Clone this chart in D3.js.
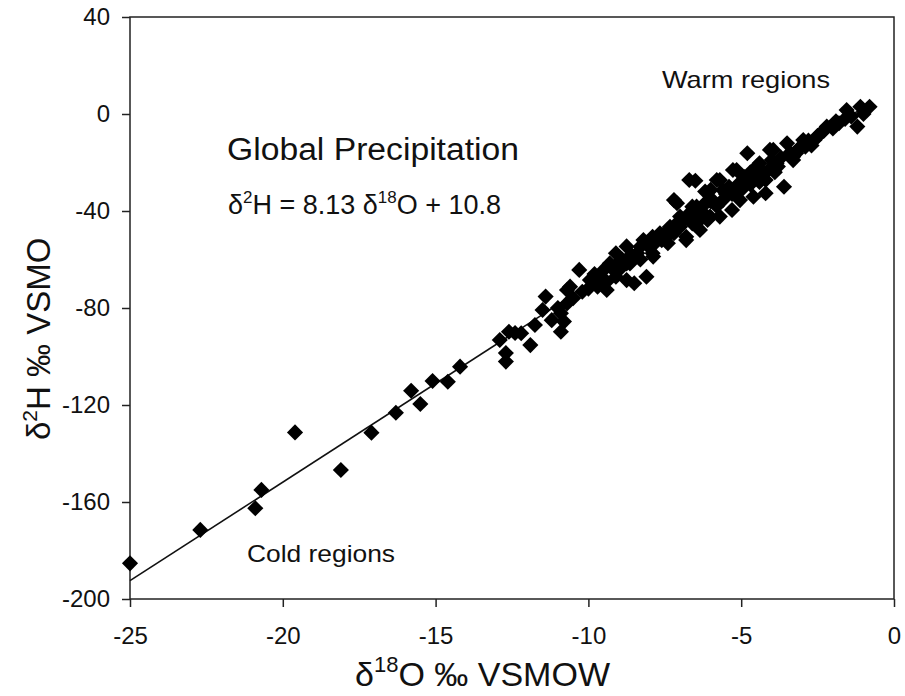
<!DOCTYPE html>
<html>
<head>
<meta charset="utf-8">
<script src="https://cdn.jsdelivr.net/npm/d3@7"></script>
<style>
  body { margin: 0; background: #fff; }
  text { font-family: "Liberation Sans", Arial, sans-serif; fill: #111; }
</style>
</head>
<body>
<script>
// delta 18O (x) and delta 2H (y) values
var o18 = [-25.0, -22.7, -20.9, -20.7, -19.6, -18.1, -17.1, -16.3, -15.8, -15.5,
  -15.1, -14.6, -14.2, -12.9, -12.7, -12.7, -12.6, -12.4, -12.2, -11.9,
  -11.75, -11.4, -11.5, -11.2, -10.9, -10.8, -10.9, -10.6, -10.7, -10.3,
  -10.2, -9.95, -9.7, -9.5, -9.4, -9.1, -9.3, -9.0, -8.75, -8.5,
  -8.1, -8.4, -8.2, -7.9, -7.66, -7.2, -7.0, -6.6, -7.4, -6.8,
  -8.75, -9.1, -8.3, -7.9, -7.4, -7.2, -6.7, -7.0, -6.6, -6.1,
  -6.0, -5.7, -5.6, -5.15, -4.8, -5.0, -4.6, -4.4, -4.2, -3.8,
  -3.95, -3.5, -3.6, -4.2, -4.6, -3.2, -2.9, -2.6, -2.2, -2.4,
  -1.8, -1.55, -1.2, -1.1, -0.8, -5.7, -6.35, -6.8, -5.3, -7.33,
  -7.1, -6.35, -9.4, -10.7, -8.75, -8.64, -7.66, -7.88, -6.5, -6.18,
  -5.8, -5.27, -4.49, -4.06, -2.97, -6.02, -6.46, -5.04, -4.93, -3.84,
  -3.3, -5.6, -11.0, -10.5, -10.0, -9.8, -9.6, -9.2, -8.9, -8.6,
  -8.3, -8.0, -7.8, -7.6, -7.5, -7.1, -6.9, -6.7, -6.5, -6.3,
  -6.2, -5.9, -5.8, -5.5, -5.4, -5.2, -5.1, -4.9, -4.7, -4.5,
  -4.3, -4.1, -4.0, -3.7, -3.4, -3.1, -2.8, -2.5, -2.3, -2.0,
  -1.9, -1.6, -1.4, -1.0, -9.0, -8.5, -7.3, -6.0, -5.3, -4.7,
  -4.4, -3.9, -3.3, -2.7];
var h2 = [-185.3, -171.5, -162.6, -155.0, -131.3, -146.8, -131.4, -123.2, -114.1, -119.6,
  -110.1, -110.4, -104.2, -93.2, -102.1, -98.6, -89.8, -90.3, -90.4, -95.3,
  -87.0, -75.3, -80.8, -85.0, -89.8, -85.6, -82.2, -71.2, -78.1, -64.3,
  -73.3, -68.5, -71.2, -64.3, -69.2, -57.4, -61.6, -64.3, -61.6, -69.8,
  -67.1, -57.4, -52.0, -57.4, -49.2, -49.2, -46.5, -45.1, -53.3, -50.6,
  -54.6, -67.1, -54.7, -50.6, -47.8, -35.5, -27.2, -42.3, -38.2, -43.7,
  -31.3, -27.2, -35.5, -23.1, -16.2, -31.3, -27.2, -20.3, -27.2, -21.7,
  -14.8, -12.1, -30.0, -32.7, -34.1, -16.2, -13.5, -10.7, -5.2, -8.0,
  -3.8, 1.6, -5.2, 3.0, 3.0, -42.3, -47.8, -52.0, -39.6, -46.5,
  -36.8, -43.7, -72.6, -72.6, -68.5, -61.6, -50.6, -58.8, -27.5, -32.0,
  -27.2, -23.1, -21.7, -14.8, -10.7, -42.3, -38.2, -35.5, -28.6, -20.3,
  -17.6, -31.3, -80, -76, -72, -66, -67, -64, -60, -58,
  -60, -55, -53, -52, -50, -45, -44, -41, -42, -40,
  -37, -36, -38, -33, -30, -32, -29, -26, -24, -25,
  -24, -23, -19, -18, -16, -14, -11, -9, -7, -6,
  -3, -2, -1, 0, -61, -59, -49, -36, -33, -29,
  -28, -24, -19, -13];

// global meteoric water line from the figure
var slope = 8.13;
var intercept = 10.8;
var lineRange = [-25, -1];

var xTicks = [-25, -20, -15, -10, -5, 0];
var yTicks = [40, 0, -40, -80, -120, -160, -200];

var W = 905, H = 696;
var m = {left: 130, right: 11, top: 17, bottom: 97};

var svg = d3.select('body').append('svg')
  .attr('width', W)
  .attr('height', H);

var x = d3.scaleLinear().domain([-25, 0]).range([m.left, W - m.right]);
var y = d3.scaleLinear().domain([-200, 40]).range([H - m.bottom, m.top]);

// frame
svg.append('rect')
  .attr('x', x(-25)).attr('y', y(40))
  .attr('width', x(0) - x(-25)).attr('height', y(-200) - y(40))
  .attr('fill', 'none').attr('stroke', '#222').attr('stroke-width', 1.5);

var fmt = function(d) { return String(d); };
var xAxis = svg.append('g')
  .attr('transform', 'translate(0,' + y(-200) + ')')
  .call(d3.axisBottom(x).tickValues(xTicks).tickSize(8).tickPadding(30).tickFormat(fmt));
var yAxis = svg.append('g')
  .attr('transform', 'translate(' + x(-25) + ',0)')
  .call(d3.axisLeft(y).tickValues(yTicks).tickSize(8).tickPadding(12).tickFormat(fmt));

[xAxis, yAxis].forEach(function(a) {
  a.select('.domain').remove();
  a.selectAll('line').attr('stroke', '#222').attr('stroke-width', 1.5);
  a.selectAll('text').style('font-size', '24px').attr('fill', '#111')
    .style('font-family', '"Liberation Sans", Arial, sans-serif');
});
xAxis.selectAll('text').attr('dy', '0.3em');

// regression line
svg.append('line')
  .attr('x1', x(lineRange[0])).attr('y1', y(slope * lineRange[0] + intercept))
  .attr('x2', x(lineRange[1])).attr('y2', y(slope * lineRange[1] + intercept))
  .attr('stroke', '#111').attr('stroke-width', 1.6);

// points
var pts = o18.map(function(d, i) { return {x: d, y: h2[i]}; });
var diamond = d3.symbol().type(d3.symbolSquare).size(130);
svg.selectAll('path.pt').data(pts)
  .enter()
  .append('path')
  .attr('class', 'pt')
  .attr('d', diamond)
  .attr('transform', function(d) { return 'translate(' + x(d.x) + ',' + y(d.y) + ') rotate(45)'; })
  .attr('fill', '#000');

// annotations
svg.append('text').attr('x', 227).attr('y', 160)
  .attr('textLength', 292).attr('lengthAdjust', 'spacingAndGlyphs')
  .style('font-size', '31px').text('Global Precipitation');

var eq = svg.append('text').attr('x', 228).attr('y', 214).style('font-size', '27px');
eq.append('tspan').text('δ');
eq.append('tspan').attr('dy', -11).style('font-size', '17px').text('2');
eq.append('tspan').attr('dy', 11).text('H = 8.13 δ');
eq.append('tspan').attr('dy', -11).style('font-size', '17px').text('18');
eq.append('tspan').attr('dy', 11).text('O + 10.8');

svg.append('text').attr('x', 662).attr('y', 88)
  .attr('textLength', 168).attr('lengthAdjust', 'spacingAndGlyphs')
  .style('font-size', '24px').text('Warm regions');
svg.append('text').attr('x', 247).attr('y', 562)
  .attr('textLength', 148).attr('lengthAdjust', 'spacingAndGlyphs')
  .style('font-size', '24px').text('Cold regions');

// axis titles
var xt = svg.append('text').attr('x', 355).attr('y', 686).style('font-size', '34px');
xt.append('tspan').text('δ');
xt.append('tspan').attr('dy', -14).style('font-size', '22px').text('18');
xt.append('tspan').attr('dy', 14).text('O ‰ VSMOW');

var yt = svg.append('text')
  .attr('transform', 'translate(50,440) rotate(-90)')
  .style('font-size', '33px');
yt.append('tspan').text('δ');
yt.append('tspan').attr('dy', -13).style('font-size', '21px').text('2');
yt.append('tspan').attr('dy', 13).text('H ‰ VSMO');
</script>
</body>
</html>
